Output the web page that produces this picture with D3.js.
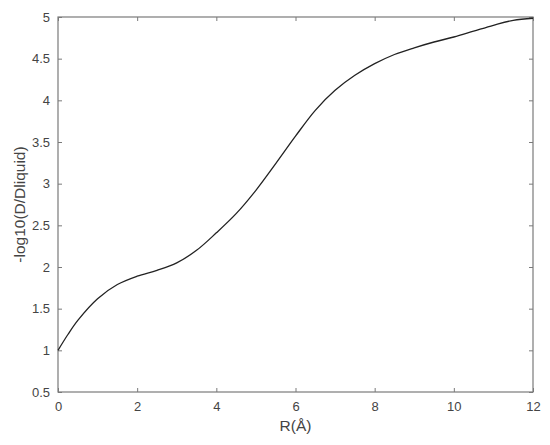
<!DOCTYPE html>
<html>
<head>
<meta charset="utf-8">
<script src="https://cdn.jsdelivr.net/npm/d3@7"></script>
<style>
  body { margin: 0; background: #fff; }
  svg text { font-family: "Liberation Sans", Arial, sans-serif; }
</style>
</head>
<body>
<svg id="chart"></svg>
<script>
// curve
const radius = [0, 0.25, 0.5, 1, 1.5, 2, 2.5, 3, 3.5, 4, 4.5, 5, 5.5, 6, 6.5, 7, 7.5, 8, 8.5, 9, 9.5, 10, 10.5, 11, 11.5, 12];
const logD = [1.0, 1.19, 1.36, 1.62, 1.79, 1.89, 1.96, 2.05, 2.2, 2.41, 2.64, 2.92, 3.24, 3.57, 3.88, 4.12, 4.3, 4.44, 4.55, 4.63, 4.7, 4.76, 4.83, 4.9, 4.96, 4.985];

const xTicks = [0, 2, 4, 6, 8, 10, 12];
const yTicks = [0.5, 1, 1.5, 2, 2.5, 3, 3.5, 4, 4.5, 5];

const width = 550, height = 445;
const margin = {top: 17, right: 17, bottom: 53, left: 58};
const axisColor = "#7a7a7a";

const svg = d3.select("#chart")
    .attr("width", width)
    .attr("height", height);

const x = d3.scaleLinear().domain([0, 12]).range([margin.left, width - margin.right]);
const y = d3.scaleLinear().domain([0.5, 5]).range([height - margin.bottom, margin.top]);

function styleAxis(g, showText) {
    g.select(".domain").remove();
    g.selectAll(".tick line").attr("stroke", axisColor);
    g.selectAll(".tick text")
        .attr("fill", "#444")
        .style("font-size", "13px")
        .style("display", showText ? null : "none");
}

// ticks point inward on all four sides
svg.append("g")
    .attr("transform", `translate(0,${y(0.5)})`)
    .call(d3.axisBottom(x).tickValues(xTicks).tickFormat(d3.format("d")).tickSizeInner(-4).tickPadding(10))
    .call(g => styleAxis(g, true));

svg.append("g")
    .attr("transform", `translate(0,${y(5)})`)
    .call(d3.axisTop(x).tickValues(xTicks).tickSizeInner(-4))
    .call(g => styleAxis(g, false));

svg.append("g")
    .attr("transform", `translate(${x(0)},0)`)
    .call(d3.axisLeft(y).tickValues(yTicks).tickFormat(d => d).tickSizeInner(-4).tickPadding(8))
    .call(g => styleAxis(g, true));

svg.append("g")
    .attr("transform", `translate(${x(12)},0)`)
    .call(d3.axisRight(y).tickValues(yTicks).tickSizeInner(-4))
    .call(g => styleAxis(g, false));

// box
svg.append("rect")
    .attr("x", x(0))
    .attr("y", y(5))
    .attr("width", x(12) - x(0))
    .attr("height", y(0.5) - y(5))
    .attr("fill", "none")
    .attr("stroke", axisColor)
    .attr("stroke-width", 1.2);

const line = d3.line()
    .x((d, i) => x(radius[i]))
    .y(d => y(d))
    .curve(d3.curveCatmullRom.alpha(0.5));

svg.append("path")
    .datum(logD)
    .attr("d", line)
    .attr("fill", "none")
    .attr("stroke", "#222")
    .attr("stroke-width", 1.3);

svg.append("text")
    .attr("x", (x(0) + x(12)) / 2)
    .attr("y", 431)
    .attr("text-anchor", "middle")
    .attr("fill", "#444")
    .style("font-size", "15.5px")
    .text("R(Å)");

svg.append("text")
    .attr("transform", `translate(25,${(y(0.5) + y(5)) / 2}) rotate(-90)`)
    .attr("text-anchor", "middle")
    .attr("fill", "#444")
    .style("font-size", "15.5px")
    .text("-log10(D/Dliquid)");
</script>
</body>
</html>
